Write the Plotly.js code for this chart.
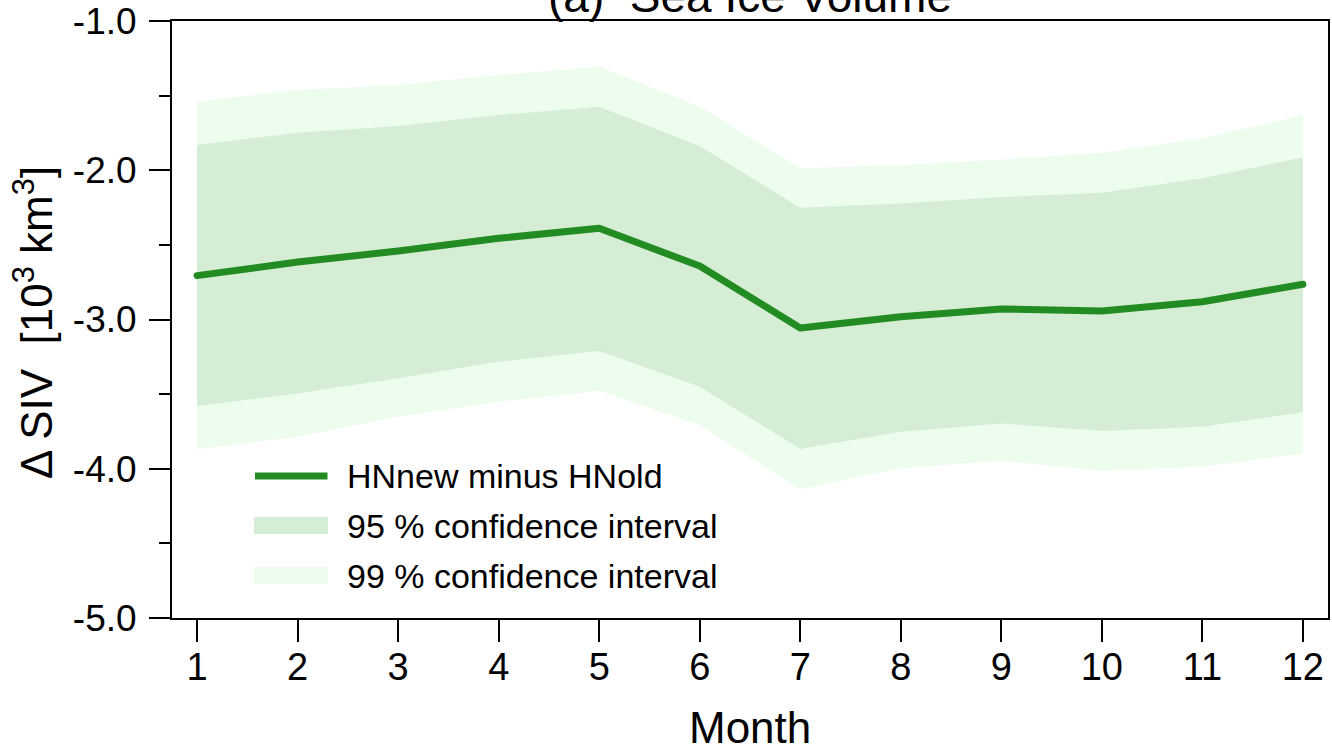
<!DOCTYPE html>
<html>
<head>
<meta charset="utf-8">
<script src="https://cdn.plot.ly/plotly-3.0.1.min.js"></script>
<style>
  html, body { margin: 0; padding: 0; background: #fff; }
  #chart { width: 1332px; height: 751px; }
  path.js-line { stroke-linecap: round; stroke-linejoin: round; }
</style>
</head>
<body>
<div id="chart"></div>
<script>
const months = [1, 2, 3, 4, 5, 6, 7, 8, 9, 10, 11, 12];
const monthLabels = ["1", "2", "3", "4", "5", "6", "7", "8", "9", "10", "11", "12"];
const diffSIV = [-2.706, -2.615, -2.541, -2.456, -2.389, -2.642, -3.057, -2.981, -2.930, -2.943, -2.881, -2.764];
const ci95Upper = [-1.831, -1.748, -1.704, -1.630, -1.574, -1.838, -2.251, -2.222, -2.180, -2.150, -2.054, -1.913];
const ci95Lower = [-3.580, -3.495, -3.394, -3.283, -3.211, -3.450, -3.868, -3.752, -3.696, -3.747, -3.718, -3.622];
const ci99Upper = [-1.541, -1.462, -1.429, -1.362, -1.306, -1.574, -1.987, -1.965, -1.928, -1.882, -1.786, -1.630];
const ci99Lower = [-3.870, -3.785, -3.651, -3.551, -3.477, -3.707, -4.138, -3.997, -3.946, -4.013, -3.986, -3.897];
const yTickVals = [-5, -4, -3, -2, -1];
const yTickText = ["-5.0", "-4.0", "-3.0", "-2.0", "-1.0"];
const legendLabels = ["HNnew minus HNold", "95 % confidence interval", "99 % confidence interval"];

const lineColor = "#228B22";
const fill95 = "rgb(213,237,213)";
const fill99 = "rgb(237,253,237)";
const FONT = "Liberation Sans, Arial, Helvetica, sans-serif";

const traces = [
  {x: months, y: ci99Lower, mode: "lines", line: {width: 0}, hoverinfo: "skip", showlegend: false},
  {x: months, y: ci99Upper, mode: "lines", line: {width: 0}, fill: "tonexty", fillcolor: fill99, hoverinfo: "skip", showlegend: false},
  {x: months, y: ci95Lower, mode: "lines", line: {width: 0}, hoverinfo: "skip", showlegend: false},
  {x: months, y: ci95Upper, mode: "lines", line: {width: 0}, fill: "tonexty", fillcolor: fill95, hoverinfo: "skip", showlegend: false},
  {x: months, y: diffSIV, mode: "lines", line: {width: 7, color: lineColor}, showlegend: false}
];

// plot area in pixels: x 172..1328, y 21..618
const L = 172, R = 1328, T = 21, B = 618;
const px = v => (v - L) / (R - L);
const py = v => (B - v) / (B - T);

const layout = {
  width: 1332, height: 751,
  margin: {l: L, r: 1332 - R, t: T, b: 751 - B, pad: 0},
  paper_bgcolor: "#fff", plot_bgcolor: "#fff",
  font: {family: FONT, color: "#000", size: 36},
  showlegend: false,
  title: {
    text: "(a)\u00a0 Sea Ice Volume",
    font: {family: FONT, size: 46, color: "#000"},
    xref: "paper", x: 0.5, xanchor: "center",
    yref: "container", y: 1 - 12 / 751, yanchor: "bottom"
  },
  xaxis: {
    range: [0.75, 12.25], tickvals: months, ticktext: monthLabels,
    showgrid: false, zeroline: false,
    showline: true, linecolor: "#000", linewidth: 2, mirror: true,
    ticks: "outside", ticklen: 22, tickwidth: 2, tickcolor: "#000",
    tickfont: {family: FONT, size: 38, color: "#000"},
    ticklabelstandoff: -8
  },
  yaxis: {
    range: [-5, -1], tickvals: yTickVals, ticktext: yTickText,
    showgrid: false, zeroline: false,
    showline: true, linecolor: "#000", linewidth: 2, mirror: true,
    ticks: "outside", ticklen: 21, tickwidth: 2, tickcolor: "#000",
    tickfont: {family: FONT, size: 37, color: "#000"},
    ticklabelstandoff: 5,
    minor: {dtick: 0.5, ticks: "outside", ticklen: 11, tickwidth: 2, tickcolor: "#000", showgrid: false}
  },
  shapes: [
    {type: "line", xref: "paper", yref: "paper", x0: px(255), x1: px(327.5), y0: py(476), y1: py(476),
     line: {color: lineColor, width: 7}},
    {type: "rect", xref: "paper", yref: "paper", x0: px(254), x1: px(328), y0: py(534), y1: py(517),
     fillcolor: fill95, line: {width: 0}},
    {type: "rect", xref: "paper", yref: "paper", x0: px(254), x1: px(328), y0: py(584), y1: py(567),
     fillcolor: fill99, line: {width: 0}}
  ],
  annotations: [
    {text: legendLabels[0], xref: "paper", yref: "paper", x: px(345), y: py(476), xanchor: "left", yanchor: "middle",
     showarrow: false, font: {family: FONT, size: 34, color: "#000"}},
    {text: legendLabels[1], xref: "paper", yref: "paper", x: px(345), y: py(525.5), xanchor: "left", yanchor: "middle",
     showarrow: false, font: {family: FONT, size: 34, color: "#000"}},
    {text: legendLabels[2], xref: "paper", yref: "paper", x: px(345), y: py(576), xanchor: "left", yanchor: "middle",
     showarrow: false, font: {family: FONT, size: 34, color: "#000"}},
    {text: "Month", xref: "paper", yref: "paper", x: 0.5, y: py(727), xanchor: "center", yanchor: "middle",
     showarrow: false, font: {family: FONT, size: 44, color: "#000"}},
    {text: "\u0394 SIV\u00a0 [10<sup>3</sup> km<sup>3</sup>]", xref: "paper", yref: "paper", x: px(33), y: py(323),
     xanchor: "center", yanchor: "middle", textangle: -90,
     showarrow: false, font: {family: FONT, size: 44, color: "#000"}}
  ]
};

Plotly.newPlot("chart", traces, layout, {staticPlot: true, displayModeBar: false});
</script>
</body>
</html>
